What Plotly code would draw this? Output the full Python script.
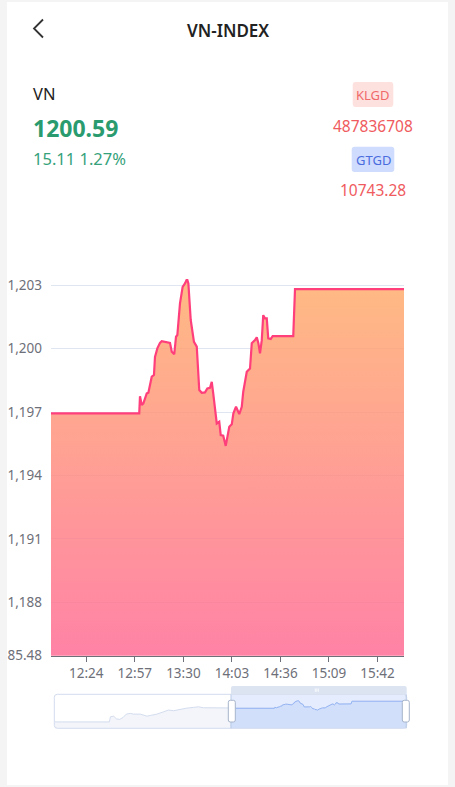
import plotly.graph_objects as go

W, H = 455, 787
DAY = "2024-01-01 "

# ---------------- data ----------------
title = "VN-INDEX"
index_name = "VN"
last_price = "1200.59"
change_text = "15.11 1.27%"
klgd_label, klgd_value = "KLGD", "487836708"
gtgd_label, gtgd_value = "GTGD", "10743.28"
prev_close = 1185.48

times = ["12:00:00", "13:00:00", "13:00:30", "13:01:42", "13:02:48", "13:05:06", "13:06:12",
         "13:07:18", "13:08:30", "13:10:00", "13:10:42", "13:12:18", "13:14:06", "13:15:18",
         "13:17:30", "13:20:54", "13:22:06", "13:23:48", "13:25:00", "13:25:54", "13:27:42",
         "13:29:30", "13:31:06", "13:32:30", "13:33:24", "13:35:00", "13:37:12", "13:39:06",
         "13:40:48", "13:42:30", "13:44:42", "13:46:18", "13:48:06", "13:49:18", "13:50:18",
         "13:51:30", "13:52:42", "13:54:24", "13:55:24", "13:57:06", "13:58:48", "14:01:12",
         "14:02:54", "14:04:00", "14:05:48", "14:08:00", "14:09:42", "14:10:42", "14:13:06",
         "14:15:18", "14:16:30", "14:18:42", "14:19:54", "14:21:00", "14:22:06", "14:23:18",
         "14:24:18", "14:25:30", "14:26:42", "14:27:42", "14:29:24", "14:30:42", "14:44:42",
         "14:45:54", "16:00:00"]
values = [1196.94, 1196.94, 1197.75, 1197.33, 1197.41, 1197.88, 1197.91,
          1198.27, 1198.67, 1198.75, 1199.61, 1200.01, 1200.27, 1200.35,
          1200.32, 1200.27, 1199.85, 1199.74, 1200.56, 1200.64, 1202.14,
          1202.92, 1203.08, 1203.29, 1203.08, 1201.35, 1200.32, 1200.09,
          1198.04, 1197.91, 1197.93, 1198.12, 1198.15, 1198.43, 1197.88,
          1197.01, 1196.46, 1196.54, 1195.91, 1195.88, 1195.40, 1196.30,
          1196.42, 1196.94, 1197.25, 1196.90, 1197.25, 1197.96, 1198.90,
          1199.06, 1200.25, 1200.40, 1200.53, 1200.25, 1199.77, 1200.40,
          1201.58, 1201.43, 1201.43, 1200.48, 1200.45, 1200.59, 1200.59,
          1202.81, 1202.81]

# morning session as seen in the data-zoom overview
morning_times = ["08:00:00", "09:14:30", "09:16:00", "09:20:24", "09:24:06", "09:28:36", "09:33:12",
                 "09:37:42", "09:43:06", "09:47:36", "09:56:48", "10:05:54", "10:10:24",
                 "10:19:30", "10:28:30", "10:35:18", "10:42:06", "10:51:18", "11:00:24",
                 "11:09:24", "11:16:12", "11:23:00", "11:32:06"]
morning_values = [1185.6, 1185.6, 1189.85, 1190.4, 1188.2, 1187.7, 1189.3,
                  1192.1, 1192.7, 1192.1, 1192.1, 1190.4, 1191.0,
                  1192.1, 1194.0, 1195.5, 1194.9, 1196.1, 1197.1,
                  1197.7, 1198.2, 1197.4, 1197.4]

x_tick0 = "12:24"
x_tick_step_min = 33
y_ticks = [1185.48, 1188, 1191, 1194, 1197, 1200, 1203]
y_tick_labels = ["1,185.48", "1,188", "1,191", "1,194", "1,197", "1,200", "1,203"]

# ---------------- helpers ----------------
def fx(x):
    return x / W

def fy(y):
    return 1 - y / H

def P(x, y):
    return f"{fx(x):.5f},{fy(y):.5f}"

def rrect(x0, y0, x1, y1, r, top_only=False):
    rb = 0 if top_only else r
    s = f"M{P(x0 + r, y0)} L{P(x1 - r, y0)} Q{P(x1, y0)} {P(x1, y0 + r)} "
    if rb:
        s += f"L{P(x1, y1 - rb)} Q{P(x1, y1)} {P(x1 - rb, y1)} L{P(x0 + rb, y1)} Q{P(x0, y1)} {P(x0, y1 - rb)} "
    else:
        s += f"L{P(x1, y1)} L{P(x0, y1)} "
    s += f"L{P(x0, y0 + r)} Q{P(x0, y0)} {P(x0 + r, y0)} Z"
    return s

FONT = "Noto Sans"
AX = "#6e7079"
TICK_SIZE = 13.5

main_x = [DAY + t for t in times]
y_max = max(values)
y_ticks_all = y_ticks + [y_max]
y_text_all = y_tick_labels + [""]

fig = go.Figure()

# main area
fig.add_trace(go.Scatter(
    x=main_x, y=values, mode="lines",
    line=dict(color="#ff3f7c", width=2.2),
    fill="tozeroy",
    fillgradient=dict(type="vertical", start=prev_close, stop=y_max,
                      colorscale=[[0, "rgba(255,103,146,0.82)"], [1, "rgba(255,172,104,0.82)"]]),
    hoverinfo="skip", showlegend=False,
    xaxis="x", yaxis="y",
))

# overview (data zoom) traces
all_x = [DAY + t for t in morning_times] + main_x
all_y = morning_values + values
fig.add_trace(go.Scatter(
    x=all_x, y=all_y, mode="lines",
    line=dict(color="#d3dcee", width=1),
    fill="tozeroy", fillcolor="#f3f5fa",
    hoverinfo="skip", showlegend=False, xaxis="x2", yaxis="y2",
))
fig.add_trace(go.Scatter(
    x=main_x, y=values, mode="lines",
    line=dict(color="#94b3f3", width=1),
    fill="tozeroy", fillcolor="#d1dffb",
    hoverinfo="skip", showlegend=False, xaxis="x2", yaxis="y2",
))

ov_min, ov_max = min(all_y), max(all_y)
pad = (ov_max - ov_min) * 0.3

shapes = []
# card
shapes.append(dict(type="rect", xref="paper", yref="paper", x0=fx(7), x1=fx(448), y0=fy(785), y1=fy(2),
                   fillcolor="white", line=dict(width=0), layer="below"))
# selection background in overview
shapes.append(dict(type="rect", xref="paper", yref="paper", x0=fx(231), x1=fx(406.7), y0=fy(728.3), y1=fy(694.3),
                   fillcolor="#e4ecfd", line=dict(width=0), layer="below"))
# back chevron
shapes.append(dict(type="path", xref="paper", yref="paper",
                   path=f"M{P(43, 19.5)} L{P(34, 28.5)} L{P(43, 37.5)}",
                   line=dict(color="#333333", width=1.8)))
# badges
shapes.append(dict(type="path", xref="paper", yref="paper", path=rrect(352.7, 82, 393.3, 107, 3),
                   fillcolor="#fde1df", line=dict(width=0)))
shapes.append(dict(type="path", xref="paper", yref="paper", path=rrect(351.7, 146.7, 394.3, 172, 3),
                   fillcolor="#cfdcfd", line=dict(width=0)))
# overview outline
shapes.append(dict(type="path", xref="paper", yref="paper", path=rrect(54.3, 694.3, 406.7, 728.3, 3),
                   fillcolor="rgba(0,0,0,0)", line=dict(color="#d2dbee", width=1), layer="above"))
# selection edges
for xe in (231, 406.2):
    shapes.append(dict(type="line", xref="paper", yref="paper", x0=fx(xe), x1=fx(xe), y0=fy(728.3), y1=fy(694.3),
                       line=dict(color="#bccbe6", width=1), layer="above"))
# selection header bar
shapes.append(dict(type="path", xref="paper", yref="paper", path=rrect(231, 686, 406.7, 694.5, 2, top_only=True),
                   fillcolor="#dce4f2", line=dict(width=0), layer="above"))
for xm in (315.3, 316.8, 318.3):
    shapes.append(dict(type="line", xref="paper", yref="paper", x0=fx(xm), x1=fx(xm), y0=fy(691.8), y1=fy(688.5),
                       line=dict(color="white", width=0.8), layer="above"))
# handles
for hx in (231.8, 405.8):
    shapes.append(dict(type="path", xref="paper", yref="paper", path=rrect(hx - 3.5, 700.3, hx + 3.5, 722, 2),
                       fillcolor="white", line=dict(color="#a6b4ca", width=1), layer="above"))
# page background strip (card edge clips the lowest axis label like the reference)
shapes.append(dict(type="rect", xref="paper", yref="paper", x0=0, x1=fx(7), y0=0, y1=1,
                   fillcolor="#f4f4f4", line=dict(width=0), layer="above"))

ann = []
def text(x, y, s, size, color, xanchor="center", weight="normal"):
    ann.append(dict(x=fx(x), y=fy(y), xref="paper", yref="paper", text=s, showarrow=False,
                    xanchor=xanchor, yanchor="middle",
                    font=dict(family=FONT, size=size, color=color, weight=weight)))

text(227.5, 30, title, 17, "#222222", weight=600)
text(31, 93, index_name, 16.5, "#222222", xanchor="left")
text(30.5, 128, last_price, 23, "#2a9b6e", xanchor="left", weight="bold")
text(31, 158, change_text, 16.5, "#36a27b", xanchor="left")
text(373, 95, klgd_label, 13, "#f06a6a")
text(372.8, 126, klgd_value, 15.5, "#ef5b5e")
text(373, 160, gtgd_label, 13, "#4a6cde")
text(373.3, 190, gtgd_value, 15.5, "#ef5b5e")

fig.update_layout(
    width=W, height=H, autosize=False,
    margin=dict(l=0, r=0, t=0, b=0, pad=0),
    paper_bgcolor="#f4f4f4", plot_bgcolor="rgba(0,0,0,0)",
    font=dict(family=FONT, size=12, color=AX),
    showlegend=False,
    shapes=shapes, annotations=ann,
    xaxis=dict(
        domain=[fx(51), fx(404)], type="date",
        range=[DAY + "12:00:00", DAY + "16:00:00"],
        tick0=DAY + x_tick0, dtick=x_tick_step_min * 60 * 1000, tickformat="%H:%M",
        ticks="outside", ticklen=5, tickcolor=AX, tickwidth=1,
        showline=True, linecolor=AX, linewidth=1,
        showgrid=False, zeroline=False, automargin=False,
        tickfont=dict(family=FONT, size=TICK_SIZE, color=AX),
        fixedrange=True,
    ),
    yaxis=dict(
        domain=[fy(655.7), fy(279)],
        range=[prev_close, y_max],
        tickmode="array", tickvals=y_ticks_all, ticktext=y_text_all,
        ticks="", showline=False, showgrid=True, gridcolor="#e0e6f1", gridwidth=1,
        zeroline=False, automargin=False, ticklabelstandoff=8,
        tickfont=dict(family=FONT, size=TICK_SIZE, color=AX),
        fixedrange=True,
    ),
    xaxis2=dict(
        domain=[fx(54.8), fx(406.2)], type="date", anchor="y2",
        range=[DAY + "08:00:00", DAY + "16:00:00"],
        visible=False, fixedrange=True,
    ),
    yaxis2=dict(
        domain=[fy(728.3), fy(694.3)], anchor="x2",
        range=[ov_min - pad, ov_max + pad],
        visible=False, fixedrange=True,
    ),
)

fig.write_html("out.html", config={"displayModeBar": False, "staticPlot": True},
               post_script="document.body.style.margin='0';document.body.style.overflow='hidden';")
